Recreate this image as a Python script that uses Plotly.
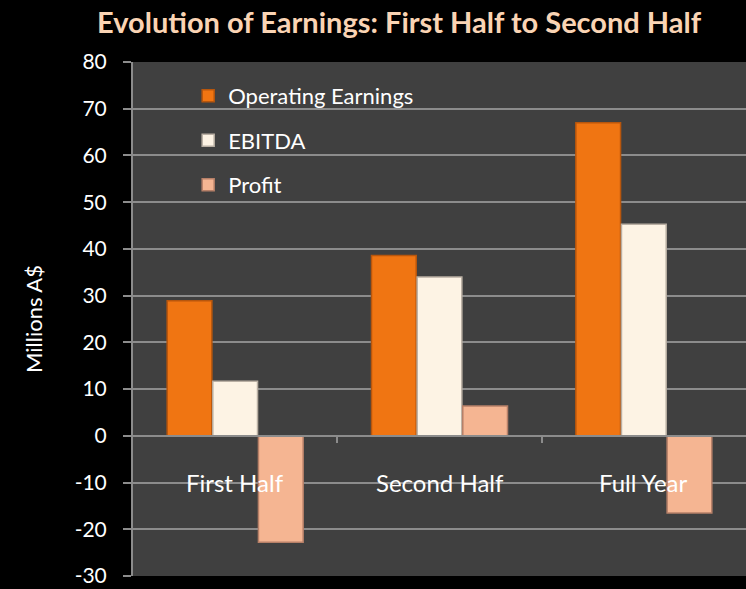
import plotly.graph_objects as go

categories = ["First Half", "Second Half", "Full Year"]
series_names = ["Operating Earnings", "EBITDA", "Profit"]
operating_earnings = [28.9, 38.6, 67.0]
ebitda = [11.7, 34.0, 45.3]
profit = [-22.8, 6.4, -16.5]
y_ticks = [-30, -20, -10, 0, 10, 20, 30, 40, 50, 60, 70, 80]
y_tick_text = [str(v) for v in y_ticks]

colors = ["#F07512", "#FDF3E4", "#F5B592"]
line_colors = ["#B8560C", "#B9AFA3", "#B78068"]
values = [operating_earnings, ebitda, profit]

FONT = "Lato"
fig = go.Figure()
for i, (name, vals) in enumerate(zip(series_names, values)):
    fig.add_trace(go.Bar(
        x=list(range(len(categories))), y=vals, name=name,
        legendgroup=name,
        marker=dict(color=colors[i], line=dict(color=line_colors[i], width=1.5)),
    ))

for i, c in enumerate(categories):
    fig.add_annotation(x=i, y=-10, text=c, showarrow=False, xref="x", yref="y",
                       font=dict(family=FONT, size=24, color="white"))

fig.update_layout(
    width=746, height=589,
    margin=dict(l=133, r=0, t=62, b=13),
    paper_bgcolor="black", plot_bgcolor="#404040",
    barmode="group", bargap=0.33, bargroupgap=0.02,
    title=dict(text="<b>Evolution of Earnings: First Half to Second Half</b>",
               x=0.535, xanchor="center", y=0.962, yanchor="middle",
               font=dict(family=FONT, size=29, color="#FAD4B4")),
    legend=dict(x=0.09, y=0.975, xanchor="left", yanchor="top",
                bgcolor="rgba(0,0,0,0)", font=dict(family=FONT, size=22, color="white"),
                traceorder="grouped", tracegroupgap=13),
    showlegend=True,
)
fig.update_yaxes(range=[-30, 80], tickvals=y_ticks, ticktext=y_tick_text, showgrid=True, gridcolor="#8C8C8C",
                 gridwidth=2, zeroline=False, showline=True, linecolor="#8C8C8C", linewidth=2,
                 ticks="outside", ticklen=8, tickcolor="#8C8C8C", tickwidth=2,
                 ticklabelstandoff=12, ticklabeloverflow="allow", automargin=False,
                 tickfont=dict(family=FONT, size=21, color="white"),
                 title=dict(text="Millions A$", font=dict(family=FONT, size=22, color="white"), standoff=26))
fig.update_xaxes(range=[-0.5, 2.5], showticklabels=False, showgrid=False, zeroline=False,
                 anchor="free", position=3/11, showline=True, linecolor="#8C8C8C", linewidth=2,
                 automargin=False,
                 tickvals=[0.5, 1.5], ticks="outside", ticklen=6, tickcolor="#8C8C8C", tickwidth=2)

fig.write_html("out.html")
